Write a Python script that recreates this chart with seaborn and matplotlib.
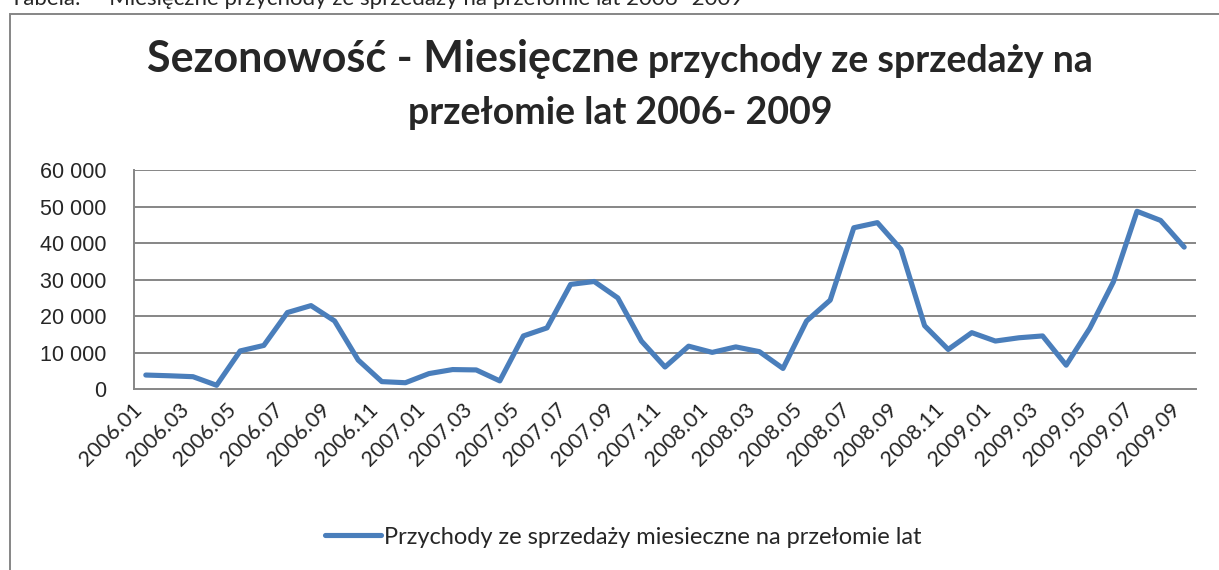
import matplotlib
matplotlib.use("Agg")
import matplotlib.pyplot as plt
import matplotlib.patches as patches
import seaborn as sns
import pandas as pd

# Monthly revenue 2006.01 - 2009.09
months = [f"{y}.{m:02d}" for y in range(2006, 2010) for m in range(1, 13)][:45]
revenue = [3900, 3700, 3450, 1100, 10500, 12000, 21000, 22900, 18700, 8000,
           2100, 1800, 4300, 5400, 5300, 2300, 14600, 16800, 28700, 29500,
           25000, 13200, 6100, 11800, 10100, 11600, 10300, 5700, 18700, 24400,
           44200, 45600, 38300, 17400, 10900, 15500, 13200, 14100, 14600, 6600,
           16700, 29400, 48700, 46200, 38900]
yticks = [0, 10000, 20000, 30000, 40000, 50000, 60000]
ytick_labels = ["0", "10 000", "20 000", "30 000", "40 000", "50 000", "60 000"]

title_big = "Sezonowość - Miesięczne"
title_small = "przychody ze sprzedaży na"
title_line2 = "przełomie lat 2006- 2009"
caption = "Tabela:     Miesięczne przychody ze sprzedaży na przełomie lat 2006- 2009"
series_name = "Przychody ze sprzedaży miesieczne na przełomie lat"

df = pd.DataFrame({"idx": range(len(months)), "month": months, "revenue": revenue})

sns.set_style("white")
plt.rcParams["font.family"] = ["Lato", "DejaVu Sans"]

W, H = 1219, 570
fig = plt.figure(figsize=(W / 100, H / 100), dpi=100)
ax = fig.add_axes([134 / W, 1 - 389.3 / H, (1196 - 134) / W, (389.3 - 170) / H])

blue = "#4A7EBB"
grid = "#868686"
sns.lineplot(data=df, x="idx", y="revenue", ax=ax, color=blue, linewidth=3.7,
             solid_joinstyle="round", solid_capstyle="round", label=series_name)

ax.set_xlim(-0.5, len(months) - 0.5)
ax.set_ylim(0, 60000)
ax.set_yticks(yticks)
ax.set_yticklabels(ytick_labels, family=["Liberation Sans"], fontsize=15.5)
ax.set_xticks(df["idx"][::2])
ax.set_xticklabels(df["month"][::2], rotation=45, ha="right", fontsize=15.5)
ax.tick_params(axis="y", length=0, pad=20)
ax.tick_params(axis="x", length=0, pad=7)
ax.set_xlabel("")
ax.set_ylabel("")
for y in yticks[1:]:
    ax.axhline(y, color=grid, linewidth=1.4, zorder=0)
for s in ["top", "right"]:
    ax.spines[s].set_visible(False)
for s in ["left", "bottom"]:
    ax.spines[s].set_color(grid)
    ax.spines[s].set_linewidth(1.4)

# legend below chart
leg = ax.legend(loc="center", bbox_to_anchor=(623 / W, 1 - 537 / H),
                bbox_transform=fig.transFigure, frameon=False, fontsize=17,
                handlelength=2.4, handletextpad=0.1)

# chart border
fig.patches.append(patches.Rectangle((10 / W, -0.05), 1.1, 1.05 - 14 / H,
                                     transform=fig.transFigure, fill=False,
                                     edgecolor=grid, linewidth=1.4))

# caption cut at top
fig.text(10 / W, 1 - 5 / H, caption, fontsize=16, va="baseline", ha="left")

# title with two sizes on first line
fig.canvas.draw()
r = fig.canvas.get_renderer()
t1 = fig.text(0, 1 - 72 / H, title_big, fontsize=31, weight="bold", va="baseline")
t2 = fig.text(0, 1 - 72 / H, title_small, fontsize=27, weight="bold", va="baseline")
w1 = t1.get_window_extent(r).width
w2 = t2.get_window_extent(r).width
gap = 10
x0 = 620 - (w1 + gap + w2) / 2
t1.set_x(x0 / W)
t2.set_x((x0 + w1 + gap) / W)
fig.text(620 / W, 1 - 124 / H, title_line2, fontsize=27, weight="bold",
         va="baseline", ha="center")

fig.savefig("out.png", dpi=100)
